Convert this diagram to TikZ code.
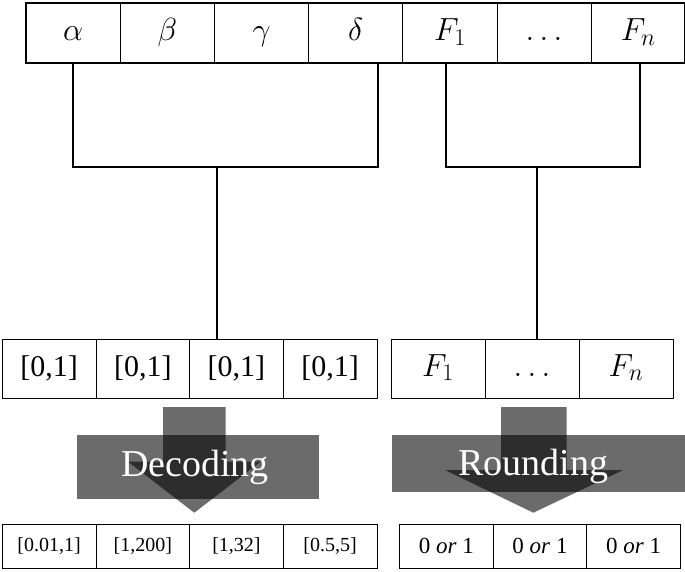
\documentclass[tikz,border=0pt]{standalone}
\usepackage{fix-cm}
\usepackage{fontspec}
\setmainfont{Liberation Serif}
\DeclareMathSizes{32}{32}{24}{18}
\usetikzlibrary{positioning}
\begin{document}
\begin{tikzpicture}[x=1pt,y=-1pt, line join=miter,
	cell/.style={draw, line width=.8pt, inner sep=0pt, outer sep=0pt, anchor=north west},
	topcell/.style={cell, minimum width=94.2pt, minimum height=60pt, text height=22pt, text depth=7pt, font=\fontsize{32}{34}\selectfont},
	midcell/.style={cell, minimum width=93.7pt, minimum height=59pt, font=\fontsize{30}{32}\selectfont},
	fcell/.style={midcell, minimum width=94pt, text height=22pt, text depth=7pt, font=\fontsize{32}{34}\selectfont},
	botcell/.style={cell, minimum width=93.7pt, minimum height=44pt, font=\fontsize{20}{22}\selectfont},
	bincell/.style={botcell, minimum width=93.6pt, font=\fontsize{23}{25}\selectfont},
	link/.style={line width=1.6pt},
	shade/.style={fill=black, fill opacity=.58},
	label/.style={text=white, text opacity=1, anchor=base, font=\fontsize{38}{40}\selectfont}]
	\useasboundingbox (0,0) rectangle (685,571);
	%cac o tren cung
	\foreach \lab [count=\i] in {\alpha,\beta,\gamma,\delta,F_1,\ldots,F_n}
		\node[topcell] (t\i) at ({26+94.2*(\i-1)},3) {$\lab$};
	\draw[line width=2.2pt] (t1.north west) rectangle (t7.south east);
	%hang giua
	\node[midcell] (m1) at (2.2,339) {[0,1]};
	\foreach \i [count=\j from 1] in {2,3,4}
		\node[midcell, right=0pt of m\j] (m\i) {[0,1]};
	\node[fcell] (r1) at (391,339) {$F_1$};
	\node[fcell, right=0pt of r1] (r2) {$\ldots$};
	\node[fcell, right=0pt of r2] (r3) {$F_n$};
	%ngoac noi
	\coordinate (jl) at (217,167);
	\coordinate (jr) at (537,167);
	\draw[link] (t1.south) |- (jl) -| ([xshift=22pt]t4.south);
	\draw[link] (jl) -- (jl |- m3.north);
	\draw[link] ([xshift=-4pt]t5.south) |- (jr) -| ([xshift=1.7pt]t7.south);
	\draw[link] (jr) -- (jr |- r2.north);
	%mui ten
	\fill[shade] (76.7,435) rectangle (319,499.3);
	\fill[shade] (163,407) -- (225.7,407) -- (225.7,461.7) -- (260.6,461.7) -- (194.3,512.7)
		-- (128,461.7) -- (163,461.7) -- cycle;
	\node[label] (dec) at (195,476) {Decoding};
	\fill[shade] (391.7,435) rectangle (685,491.7);
	\fill[shade] (501,407) -- (566.7,407) -- (566.7,470) -- (623.3,470) -- (533.3,512.7)
		-- (445,470) -- (501,470) -- cycle;
	\node[label] (rnd) at (533.5,475) {Rounding};
	%hang duoi
	\node[botcell] (b1) at (2.2,524) {[0.01,1]};
	\node[botcell, right=0pt of b1] (b2) {[1,200]};
	\node[botcell, right=0pt of b2] (b3) {[1,32]};
	\node[botcell, right=0pt of b3] (b4) {[0.5,5]};
	\node[bincell] (c1) at (399.6,524) {0 \textit{or} 1};
	\foreach \i [count=\j from 1] in {2,3}
		\node[bincell, right=0pt of c\j] (c\i) {0 \textit{or} 1};
\end{tikzpicture}
\end{document}
